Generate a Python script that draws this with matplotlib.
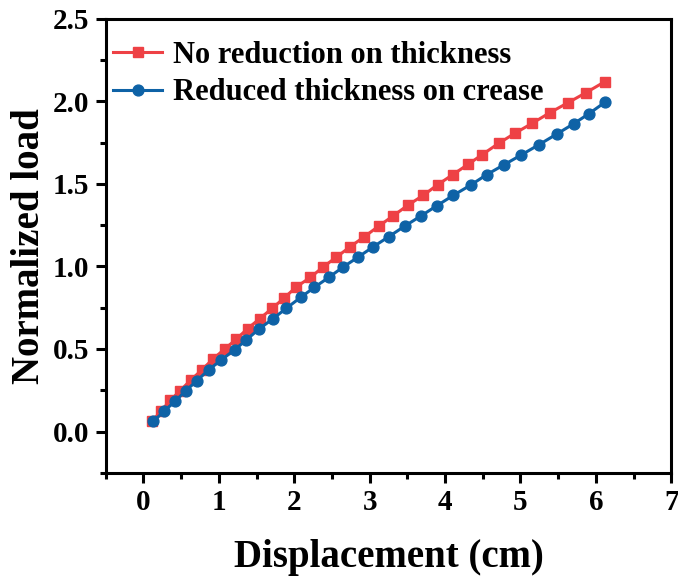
import matplotlib.pyplot as plt
from matplotlib.ticker import MultipleLocator

plt.rcParams['font.family'] = 'Liberation Serif'
plt.rcParams['font.weight'] = 'bold'

# displacement (cm) and normalized load for both models
disp_full = [0.115, 0.235, 0.355, 0.487, 0.629, 0.776, 0.922, 1.076, 1.231, 1.381,
             1.541, 1.705, 1.869, 2.028, 2.214, 2.382, 2.559, 2.745, 2.931, 3.121,
             3.312, 3.506, 3.710, 3.904, 4.104, 4.303, 4.494, 4.711, 4.923, 5.158,
             5.392, 5.631, 5.866, 6.118]
load_full = [0.062, 0.125, 0.188, 0.248, 0.312, 0.374, 0.439, 0.499, 0.559, 0.623,
             0.683, 0.745, 0.810, 0.876, 0.933, 0.996, 1.056, 1.120, 1.180, 1.244,
             1.306, 1.370, 1.430, 1.495, 1.556, 1.617, 1.677, 1.745, 1.805, 1.867,
             1.931, 1.991, 2.051, 2.118]

disp_thin = [0.133, 0.275, 0.421, 0.563, 0.709, 0.863, 1.030, 1.210, 1.365, 1.527,
             1.718, 1.891, 2.090, 2.267, 2.457, 2.648, 2.847, 3.046, 3.254, 3.466,
             3.675, 3.887, 4.109, 4.339, 4.551, 4.781, 5.012, 5.246, 5.481, 5.711,
             5.910, 6.125]
load_thin = [0.062, 0.124, 0.184, 0.248, 0.308, 0.373, 0.433, 0.495, 0.555, 0.619,
             0.683, 0.745, 0.814, 0.873, 0.933, 0.996, 1.056, 1.118, 1.180, 1.244,
             1.304, 1.366, 1.430, 1.492, 1.555, 1.615, 1.675, 1.737, 1.801, 1.865,
             1.925, 1.995]

fig = plt.figure(figsize=(6.78, 5.83), dpi=100)
ax = fig.add_axes([0.156, 0.189, 0.834, 0.779])

ax.plot(disp_full, load_full, '-s', color='#EE4145', lw=2.2, ms=6.8,
        label='No reduction on thickness')
ax.plot(disp_thin, load_thin, '-o', color='#0E62A6', lw=2.2, ms=7.8,
        label='Reduced thickness on crease')

ax.set_xlim(-0.5, 7)
ax.set_ylim(-0.25, 2.5)
ax.xaxis.set_major_locator(MultipleLocator(1))
ax.xaxis.set_minor_locator(MultipleLocator(0.5))
ax.yaxis.set_major_locator(MultipleLocator(0.5))
ax.yaxis.set_minor_locator(MultipleLocator(0.25))
ax.yaxis.set_major_formatter('{x:.1f}')

for s in ax.spines.values():
    s.set_linewidth(2.2)
ax.tick_params(which='major', direction='out', length=7, width=2.2,
               labelsize=21, pad=5)
ax.tick_params(which='minor', direction='out', length=4, width=2.2)

ax.set_xlabel('Displacement (cm)', fontsize=28, fontweight='bold', labelpad=16)
ax.set_ylabel('Normalized load', fontsize=28, fontweight='bold', labelpad=3)

ax.legend(loc='upper left', bbox_to_anchor=(-0.014, 0.985), frameon=False,
          handlelength=1.6, borderaxespad=0.2, borderpad=0.3,
          labelspacing=0.28, handletextpad=0.35,
          prop={'weight': 'bold', 'size': 22})

fig.savefig('out.png', dpi=100)
